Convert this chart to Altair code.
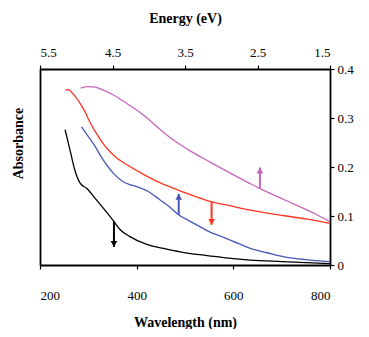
import altair as alt
import pandas as pd

# ---- data ----
black_wl = [252, 262, 272, 283, 297, 314, 331, 352, 365, 386, 421, 460, 490, 530, 565, 600, 635, 700, 750, 800]
black_a = [0.276, 0.235, 0.194, 0.167, 0.156, 0.136, 0.116, 0.090, 0.073, 0.058, 0.042, 0.033, 0.027, 0.021, 0.017, 0.013, 0.010, 0.007, 0.005, 0.003]

blue_wl = [286, 300, 310, 331, 352, 372, 386, 400, 424, 448, 470, 486, 507, 524, 550, 586, 610, 635, 670, 703, 750, 800]
blue_a = [0.282, 0.262, 0.248, 0.214, 0.187, 0.170, 0.164, 0.160, 0.150, 0.133, 0.117, 0.103, 0.091, 0.082, 0.068, 0.054, 0.044, 0.034, 0.025, 0.017, 0.011, 0.007]

red_wl = [252, 259, 264, 272, 283, 293, 300, 317, 331, 345, 362, 379, 414, 448, 486, 510, 552, 593, 635, 670, 703, 750, 800]
red_a = [0.357, 0.358, 0.354, 0.345, 0.330, 0.313, 0.298, 0.268, 0.247, 0.231, 0.216, 0.205, 0.185, 0.168, 0.153, 0.144, 0.130, 0.121, 0.112, 0.106, 0.101, 0.094, 0.085]

pink_wl = [284, 300, 314, 331, 352, 379, 414, 448, 469, 507, 552, 593, 635, 655, 697, 735, 770, 800]
pink_a = [0.361, 0.364, 0.363, 0.357, 0.347, 0.330, 0.306, 0.277, 0.260, 0.235, 0.210, 0.188, 0.166, 0.156, 0.137, 0.120, 0.104, 0.088]

arrow_series = ["black", "blue", "red", "pink"]
arrow_wl = [353, 487, 555, 655]
arrow_from = [0.089, 0.102, 0.129, 0.156]
arrow_to = [0.037, 0.145, 0.082, 0.199]

wavelength_ticks = [200, 400, 600, 800]
energy_ticks = [5.5, 4.5, 3.5, 2.5, 1.5]
absorb_ticks = [0, 0.1, 0.2, 0.3, 0.4]

colors = {"black": "#000000", "blue": "#4858b8", "red": "#ff3520", "pink": "#c865b8"}
FONT = "Liberation Serif"

rows = []
for name, wl, a in [("black", black_wl, black_a), ("blue", blue_wl, blue_a),
                    ("red", red_wl, red_a), ("pink", pink_wl, pink_a)]:
    for w, v in zip(wl, a):
        rows.append({"series": name, "wl": w, "A": v})
df = pd.DataFrame(rows)

arr = pd.DataFrame({"series": arrow_series, "wl": arrow_wl, "a0": arrow_from, "a1": arrow_to})
arr["dir"] = ["down" if t < f else "up" for f, t in zip(arrow_from, arrow_to)]

xscale = alt.Scale(domain=[200, 800], nice=False, zero=False)
yscale = alt.Scale(domain=[0, 0.4], nice=False)
cscale = alt.Scale(domain=list(colors.keys()), range=list(colors.values()))

common = dict(labelFont=FONT, titleFont=FONT, labelFontSize=13, titleFontSize=14,
              titleFontWeight="bold", labelColor="#000000", titleColor="#000000",
              domainColor="#000000", domainWidth=1.8, tickColor="#000000", tickWidth=1.2,
              grid=False)

xaxis = alt.Axis(values=wavelength_ticks, orient="bottom", title="Wavelength (nm)",
                 tickSize=4, labelPadding=20, labelBaseline="top",
                 titleY=57, titleBaseline="middle", **common)
yaxis = alt.Axis(values=absorb_ticks, orient="right", title=None,
                 tickSize=4, labelPadding=3,
                 labelExpr="datum.value == 0 ? '0' : format(datum.value, '.1f')", **common)

lines = alt.Chart(df).mark_line(strokeWidth=1.3, interpolate="monotone").encode(
    x=alt.X("wl:Q", scale=xscale, axis=xaxis),
    y=alt.Y("A:Q", scale=yscale, axis=yaxis),
    color=alt.Color("series:N", scale=cscale, legend=None),
    detail="series:N",
)

shafts = alt.Chart(arr).mark_rule(strokeWidth=2).encode(
    x=alt.X("wl:Q", scale=xscale),
    y=alt.Y("a0:Q", scale=yscale),
    y2="a1:Q",
    color=alt.Color("series:N", scale=cscale, legend=None),
)

heads_down = alt.Chart(arr).transform_filter("datum.dir == 'down'").mark_point(
    shape="triangle-down", filled=True, size=45, opacity=1, yOffset=-3).encode(
    x=alt.X("wl:Q", scale=xscale),
    y=alt.Y("a1:Q", scale=yscale),
    color=alt.Color("series:N", scale=cscale, legend=None),
)
heads_up = alt.Chart(arr).transform_filter("datum.dir == 'up'").mark_point(
    shape="triangle-up", filled=True, size=45, opacity=1, yOffset=3).encode(
    x=alt.X("wl:Q", scale=xscale),
    y=alt.Y("a1:Q", scale=yscale),
    color=alt.Color("series:N", scale=cscale, legend=None),
)

main = alt.layer(lines, shafts, heads_down, heads_up)

energy_df = pd.DataFrame({"E": energy_ticks})
energy = alt.Chart(energy_df).mark_point(opacity=0).encode(
    x=alt.X("E:Q", scale=alt.Scale(domain=[1.5, 5.5], reverse=True, nice=False, zero=False),
            axis=alt.Axis(values=energy_ticks, orient="top", format=".1f",
                          title="Energy (eV)", tickSize=4, labelPadding=6,
                          titleY=-51, titleBaseline="middle", **common)),
    y=alt.value(0),
)

left_df = pd.DataFrame({"A": [0, 0.4]})
left = alt.Chart(left_df).mark_point(opacity=0).encode(
    y=alt.Y("A:Q", scale=alt.Scale(domain=[0, 0.4], nice=False),
            axis=alt.Axis(orient="left", labels=False, ticks=False,
                          title="Absorbance", titleX=-22, titleY=74,
                          titleAngle=-90, titleAlign="center", titleBaseline="middle", **common)),
    x=alt.value(0),
)

chart = alt.layer(main, energy, left).resolve_scale(
    x="independent", y="independent"
).properties(
    width=290, height=196,
    autosize=alt.AutoSizeParams(type="none"),
    padding={"left": 32, "top": 61, "right": 31, "bottom": 64},
).configure(font=FONT).configure_view(stroke=None)

chart.save("out.html", embed_options={"renderer": "svg", "actions": False})
